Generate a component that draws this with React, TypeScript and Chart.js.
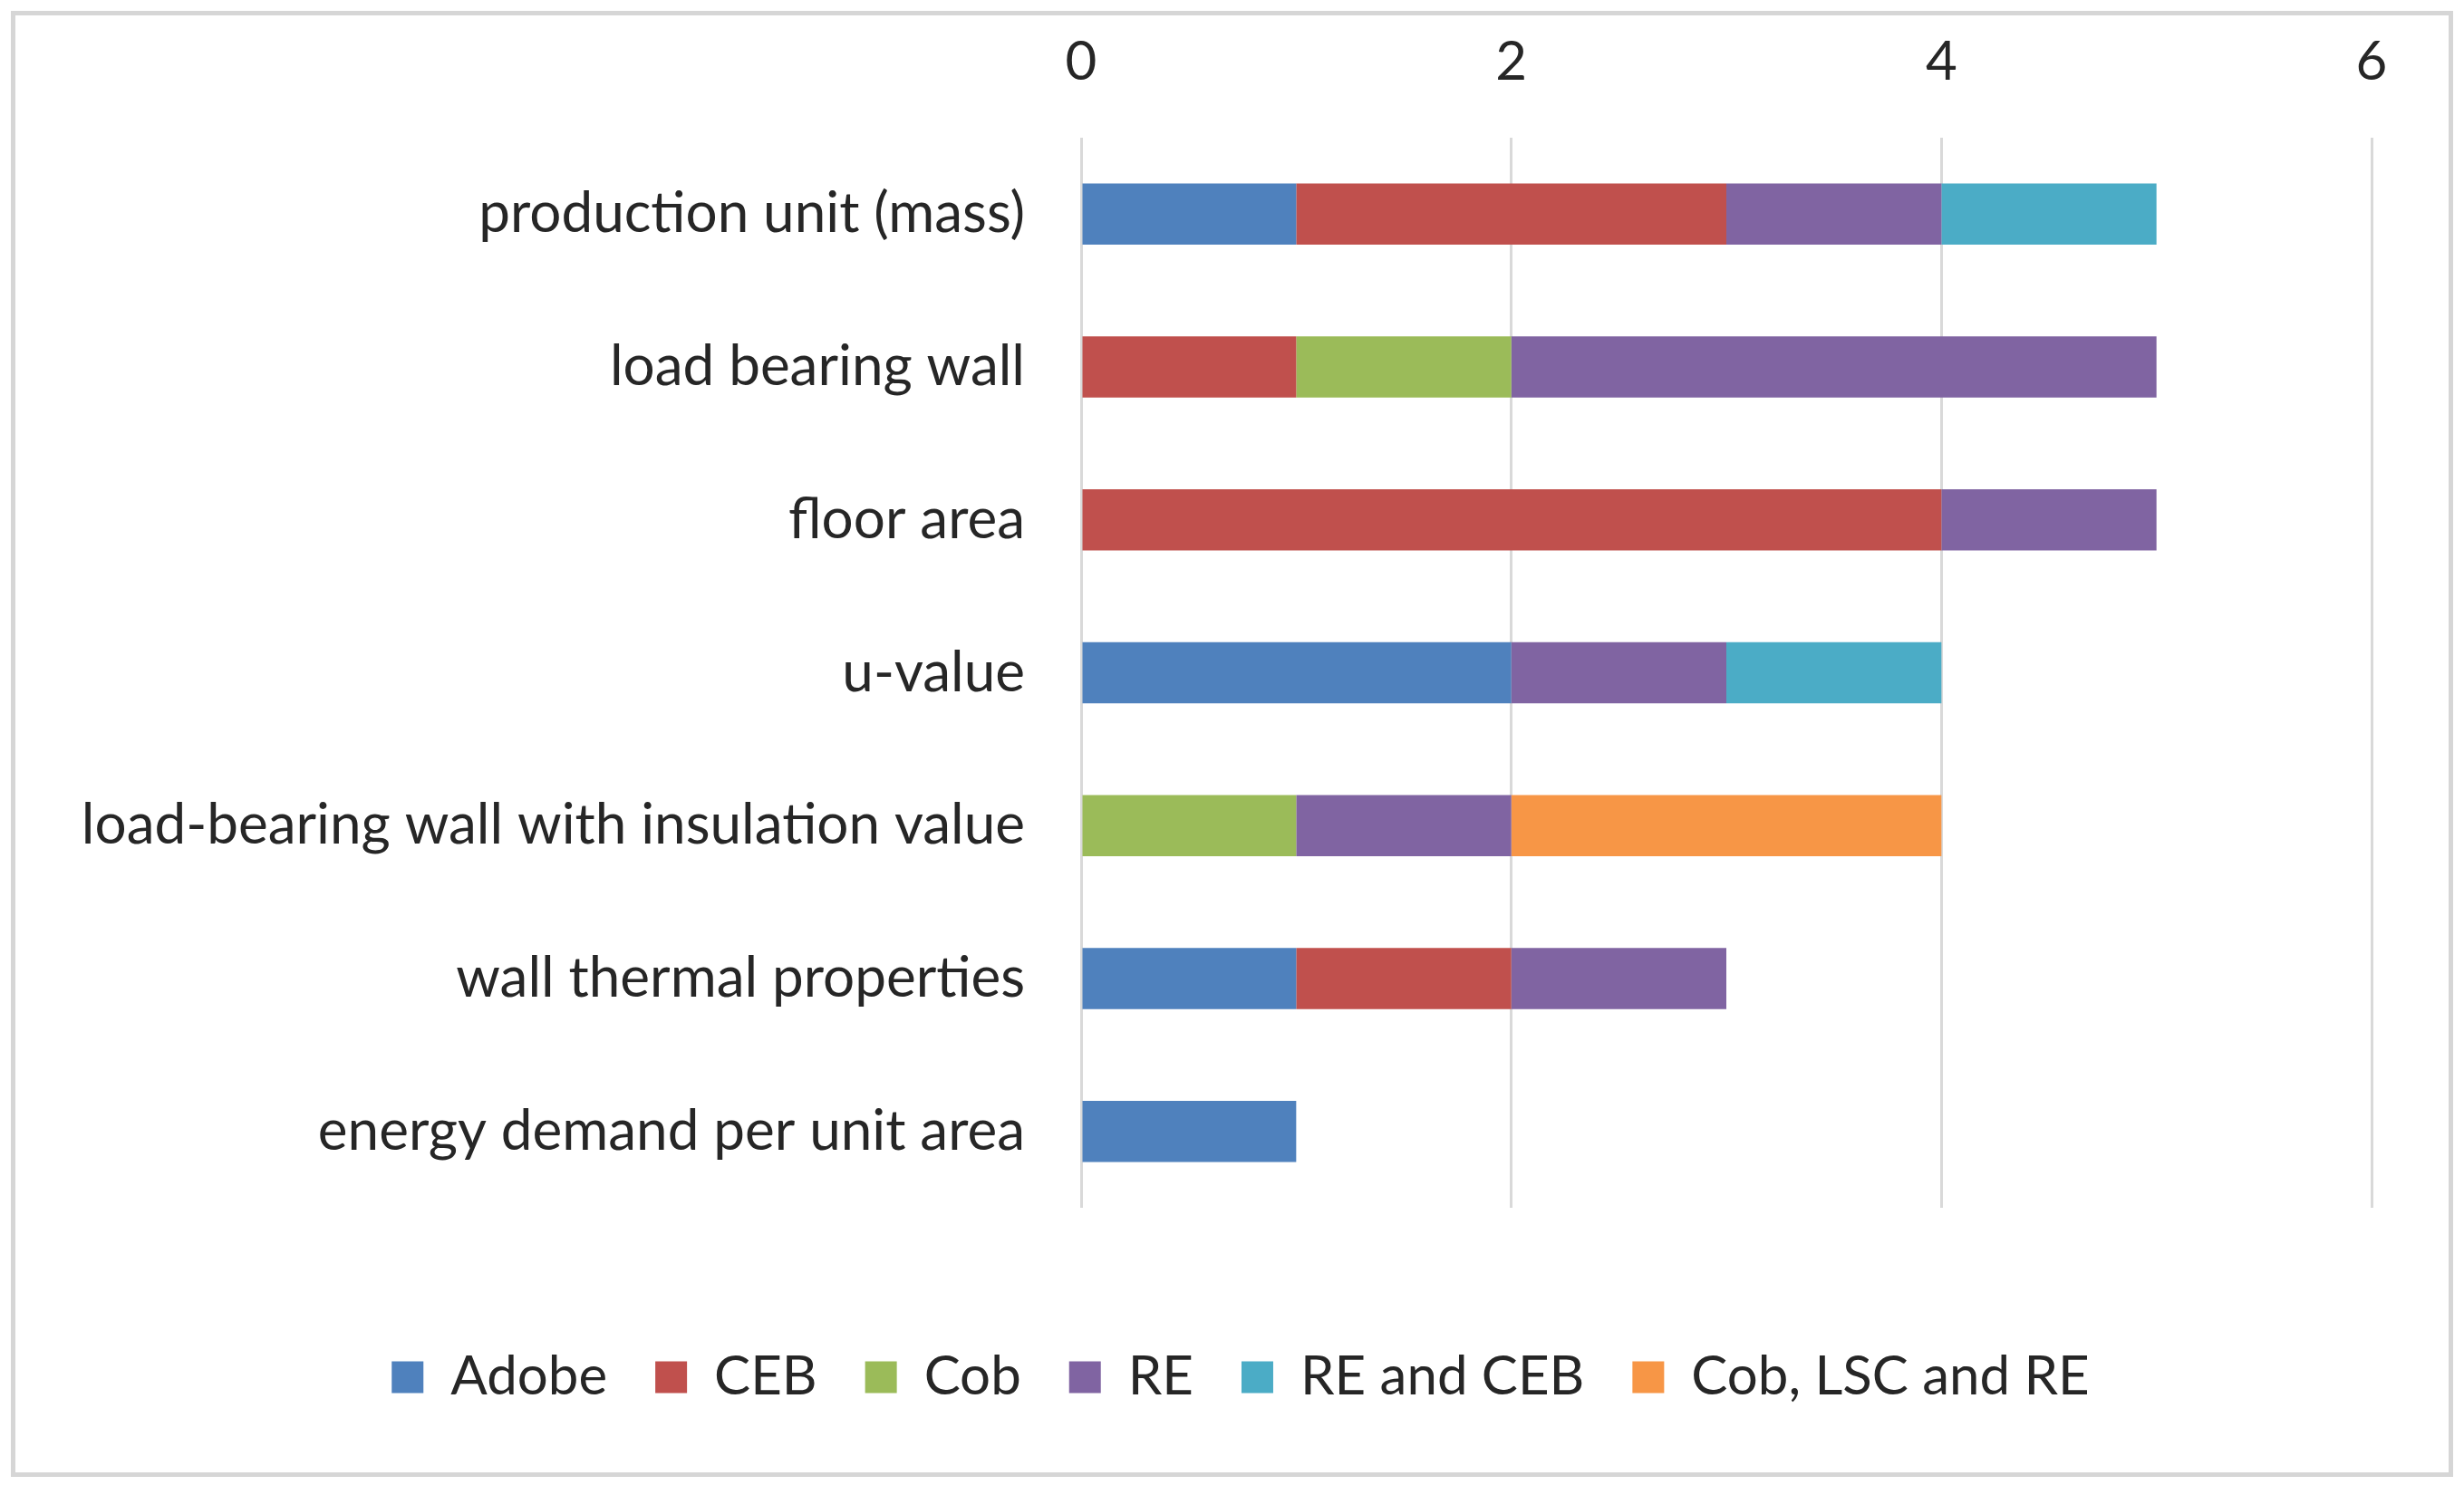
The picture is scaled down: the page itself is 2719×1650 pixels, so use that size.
import React, { useEffect, useRef } from "react";
import { Chart, registerables } from "chart.js";

Chart.register(...registerables);

const categories = [
  "production unit (mass)",
  "load bearing wall",
  "floor area",
  "u-value",
  "load-bearing wall with insulation value",
  "wall thermal properties",
  "energy demand per unit area",
];

const seriesNames = ["Adobe", "CEB", "Cob", "RE", "RE and CEB", "Cob, LSC and RE"];
const adobe = [1, 0, 0, 2, 0, 1, 1];
const ceb = [2, 1, 4, 0, 0, 1, 0];
const cob = [0, 1, 0, 0, 1, 0, 0];
const re = [1, 3, 1, 1, 1, 1, 0];
const reAndCeb = [1, 0, 0, 1, 0, 0, 0];
const cobLscRe = [0, 0, 0, 0, 2, 0, 0];
const seriesColors = ["#4F81BD", "#C0504D", "#9BBB59", "#8064A2", "#4BACC6", "#F79646"];

const xMin = 0;
const xMax = 6;
const xStep = 2;

const FONT = "Lato";
const TEXT = "#262626";
const PAD_LEFT = 19;
const RIGHT_SPACE = 102;

export default function App() {
  const ref = useRef<HTMLCanvasElement | null>(null);

  useEffect(() => {
    if (!ref.current) return;
    const values = [adobe, ceb, cob, re, reAndCeb, cobLscRe];
    const chart = new Chart(ref.current, {
      type: "bar",
      data: {
        labels: categories,
        datasets: seriesNames.map((name, i) => ({
          label: name,
          data: values[i],
          backgroundColor: seriesColors[i],
          borderWidth: 0,
          barPercentage: 0.4,
          categoryPercentage: 1,
        })),
      },
      options: {
        indexAxis: "y",
        animation: false,
        responsive: true,
        maintainAspectRatio: false,
        layout: { padding: { left: PAD_LEFT, right: 0, top: 0, bottom: 90 } },
        scales: {
          x: {
            position: "top",
            stacked: true,
            min: xMin,
            max: xMax,
            ticks: {
              stepSize: xStep,
              padding: 47,
              color: TEXT,
              font: { family: FONT, size: 60 },
            },
            grid: { color: "#D9D9D9", lineWidth: 3, drawTicks: false },
            border: { display: false },
            afterFit: (scale: any) => {
              scale.height = 152;
            },
          },
          y: {
            stacked: true,
            ticks: {
              padding: 62,
              color: TEXT,
              font: { family: FONT, size: 62 },
            },
            grid: { display: false, drawTicks: false },
            border: { display: false },
            afterFit: (scale: any) => {
              scale.width = 1193 - PAD_LEFT;
            },
          },
          spacer: {
            type: "linear",
            axis: "y",
            position: "right",
            display: true,
            ticks: { display: false },
            grid: { display: false, drawTicks: false },
            border: { display: false },
            afterFit: (scale: any) => {
              scale.width = RIGHT_SPACE;
            },
          },
        },
        plugins: {
          tooltip: { enabled: false },
          legend: {
            position: "bottom",
            title: { display: true, text: " ", font: { size: 10 }, padding: { top: 92, bottom: 0 } },
            labels: {
              boxWidth: 35,
              boxHeight: 35,
              padding: 53,
              color: TEXT,
              font: { family: FONT, size: 60 },
            },
          },
        },
      },
    } as any);
    return () => chart.destroy();
  }, []);

  return (
    <div style={{ position: "absolute", left: 0, top: 0, width: 2719, height: 1650, background: "#fff" }}>
      <div
        style={{
          position: "absolute",
          left: 12,
          top: 12,
          width: 2695,
          height: 1618,
          boxSizing: "border-box",
          border: "5px solid #d6d6d6",
        }}
      />
      <div style={{ position: "absolute", left: 0, top: 0, width: 2719, height: 1650 }}>
        <canvas ref={ref} />
      </div>
    </div>
  );
}
